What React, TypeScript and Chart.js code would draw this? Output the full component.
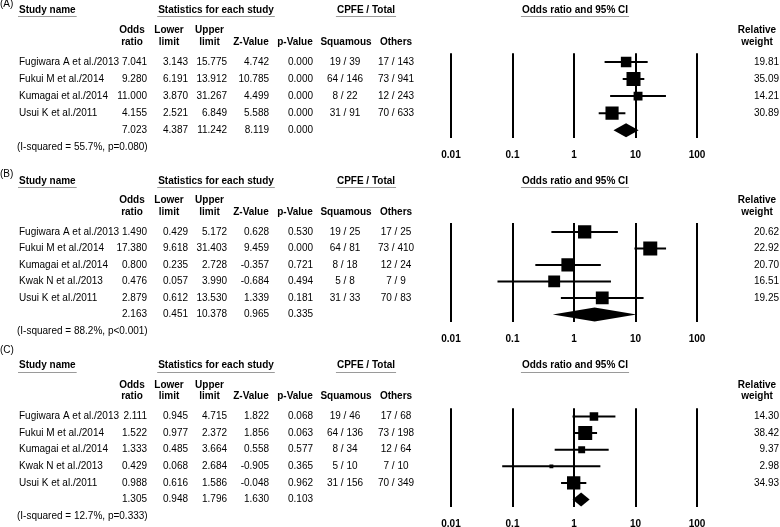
import React, { useEffect, useRef } from "react";
import { Chart, registerables } from "chart.js";

Chart.register(...registerables);

// ---------- axis ----------
const tickValues = [0.01, 0.1, 1, 10, 100];
const tickLabels = ["0.01", "0.1", "1", "10", "100"];

// ---------- panel A ----------
const studiesA = ["Fugiwara A et al./2013", "Fukui M et al./2014", "Kumagai et al./2014", "Usui K et al./2011"];
const oddsA = [7.041, 9.28, 11.0, 4.155];
const lowerA = [3.143, 6.191, 3.87, 2.521];
const upperA = [15.775, 13.912, 31.267, 6.849];
const zA = [4.742, 10.785, 4.499, 5.588];
const pA = [0.0, 0.0, 0.0, 0.0];
const squamousEventsA = [19, 64, 8, 31];
const squamousTotalA = [39, 146, 22, 91];
const othersEventsA = [17, 73, 12, 70];
const othersTotalA = [143, 941, 243, 633];
const weightsA = [19.81, 35.09, 14.21, 30.89];
const pooledA = [7.023, 4.387, 11.242, 8.119, 0.0]; // OR, lower, upper, Z, p
const hetA = "(I-squared = 55.7%, p=0.080)";

// ---------- panel B ----------
const studiesB = ["Fugiwara A et al./2013", "Fukui M et al./2014", "Kumagai et al./2014", "Kwak N et al./2013", "Usui K et al./2011"];
const oddsB = [1.49, 17.38, 0.8, 0.476, 2.879];
const lowerB = [0.429, 9.618, 0.235, 0.057, 0.612];
const upperB = [5.172, 31.403, 2.728, 3.99, 13.53];
const zB = [0.628, 9.459, -0.357, -0.684, 1.339];
const pB = [0.53, 0.0, 0.721, 0.494, 0.181];
const squamousEventsB = [19, 64, 8, 5, 31];
const squamousTotalB = [25, 81, 18, 8, 33];
const othersEventsB = [17, 73, 12, 7, 70];
const othersTotalB = [25, 410, 24, 9, 83];
const weightsB = [20.62, 22.92, 20.7, 16.51, 19.25];
const pooledB = [2.163, 0.451, 10.378, 0.965, 0.335];
const hetB = "(I-squared = 88.2%, p<0.001)";

// ---------- panel C ----------
const studiesC = ["Fugiwara A et al./2013", "Fukui M et al./2014", "Kumagai et al./2014", "Kwak N et al./2013", "Usui K et al./2011"];
const oddsC = [2.111, 1.522, 1.333, 0.429, 0.988];
const lowerC = [0.945, 0.977, 0.485, 0.068, 0.616];
const upperC = [4.715, 2.372, 3.664, 2.684, 1.586];
const zC = [1.822, 1.856, 0.558, -0.905, -0.048];
const pC = [0.068, 0.063, 0.577, 0.365, 0.962];
const squamousEventsC = [19, 64, 8, 5, 31];
const squamousTotalC = [46, 136, 34, 10, 156];
const othersEventsC = [17, 73, 12, 7, 70];
const othersTotalC = [68, 198, 64, 10, 349];
const weightsC = [14.3, 38.42, 9.37, 2.98, 34.93];
const pooledC = [1.305, 0.948, 1.796, 1.63, 0.103];
const hetC = "(I-squared = 12.7%, p=0.333)";

// ---------- header texts ----------
const groupHeaders = ["Study name", "Statistics for each study", "CPFE / Total", "Odds ratio and 95% CI"];

// ---------- layout (pixels) ----------
const FONT = '"Liberation Sans", Arial, Helvetica, sans-serif';
const PLOT_LEFT = 451;
const PLOT_RIGHT = 697;
const AXIS_H = 20;
const MAX_SIDE = 14;
const DIAMOND_HALF = 7;

type Layout = {
  top: number; height: number; labelY: number; groupY: number; head1Y: number; head2Y: number;
  areaTop: number; areaBottom: number; row0: number; rowStep: number;
};

const layoutA: Layout = { top: 0, height: 168, labelY: 4, groupY: 10.3, head1Y: 30.5, head2Y: 42, areaTop: 53.3, areaBottom: 138, row0: 61.9, rowStep: 17.09 };
const layoutB: Layout = { top: 168, height: 176, labelY: 6, groupY: 13, head1Y: 32.7, head2Y: 44.3, areaTop: 55, areaBottom: 154.3, row0: 63.9, rowStep: 16.51 };
const layoutC: Layout = { top: 344, height: 183, labelY: 6, groupY: 21.7, head1Y: 41.7, head2Y: 52.7, areaTop: 64.3, areaBottom: 163, row0: 72.5, rowStep: 16.61 };

type Panel = {
  tag: string; studies: string[]; odds: number[]; lower: number[]; upper: number[]; z: number[]; p: number[];
  sqE: number[]; sqT: number[]; otE: number[]; otT: number[]; weights: number[]; pooled: number[]; het: string; layout: Layout;
};

const panels: Panel[] = [
  { tag: "(A)", studies: studiesA, odds: oddsA, lower: lowerA, upper: upperA, z: zA, p: pA, sqE: squamousEventsA, sqT: squamousTotalA, otE: othersEventsA, otT: othersTotalA, weights: weightsA, pooled: pooledA, het: hetA, layout: layoutA },
  { tag: "(B)", studies: studiesB, odds: oddsB, lower: lowerB, upper: upperB, z: zB, p: pB, sqE: squamousEventsB, sqT: squamousTotalB, otE: othersEventsB, otT: othersTotalB, weights: weightsB, pooled: pooledB, het: hetB, layout: layoutB },
  { tag: "(C)", studies: studiesC, odds: oddsC, lower: lowerC, upper: upperC, z: zC, p: pC, sqE: squamousEventsC, sqT: squamousTotalC, otE: othersEventsC, otT: othersTotalC, weights: weightsC, pooled: pooledC, het: hetC, layout: layoutC },
];

function text(ctx: CanvasRenderingContext2D, s: string, x: number, y: number, align: CanvasTextAlign, bold = false) {
  ctx.font = `${bold ? "bold " : ""}10px ${FONT}`;
  ctx.textAlign = align;
  ctx.textBaseline = "middle";
  ctx.fillStyle = "#000";
  ctx.fillText(s, x, y);
}

function underlined(ctx: CanvasRenderingContext2D, s: string, x: number, y: number, align: CanvasTextAlign) {
  text(ctx, s, x, y, align, true);
  const w = ctx.measureText(s).width;
  const x0 = align === "left" ? x : x - w / 2;
  ctx.save();
  ctx.strokeStyle = "#9a9a9a";
  ctx.lineWidth = 1;
  ctx.beginPath();
  ctx.moveTo(x0 - 1, Math.round(y + 6) + 0.5);
  ctx.lineTo(x0 + w + 1, Math.round(y + 6) + 0.5);
  ctx.stroke();
  ctx.restore();
}

function makeConfig(panel: Panel): any {
  const L = panel.layout;
  const n = panel.studies.length;
  const maxW = Math.max(...panel.weights);
  const yMin = (L.areaTop - L.row0) / L.rowStep;
  const yMax = (L.areaBottom - L.row0) / L.rowStep;

  const squares = panel.odds.map((v, i) => ({ x: v, y: i }));
  const radii = panel.weights.map((w) => (MAX_SIDE * Math.sqrt(w / maxW)) / Math.SQRT2);
  const ciData: any[] = [];
  panel.odds.forEach((_, i) => {
    ciData.push({ x: panel.lower[i], y: i });
    ciData.push({ x: panel.upper[i], y: i });
    ciData.push({ x: panel.upper[i], y: null });
  });

  const tablePlugin = {
    id: "forestTable" + panel.tag,
    afterDatasetsDraw(chart: any) {
      const ctx: CanvasRenderingContext2D = chart.ctx;
      const xs = chart.scales.x;
      const ys = chart.scales.y;
      const [or, lo, hi] = panel.pooled;
      const yc = ys.getPixelForValue(n);
      ctx.save();
      ctx.fillStyle = "#000";
      ctx.beginPath();
      ctx.moveTo(xs.getPixelForValue(lo), yc);
      ctx.lineTo(xs.getPixelForValue(or), yc - DIAMOND_HALF);
      ctx.lineTo(xs.getPixelForValue(hi), yc);
      ctx.lineTo(xs.getPixelForValue(or), yc + DIAMOND_HALF);
      ctx.closePath();
      ctx.fill();
      ctx.restore();
    },
    afterDraw(chart: any) {
      const ctx: CanvasRenderingContext2D = chart.ctx;
      const ys = chart.scales.y;
      ctx.save();
      text(ctx, panel.tag, 0, L.labelY, "left");
      underlined(ctx, groupHeaders[0], 19, L.groupY, "left");
      underlined(ctx, groupHeaders[1], 216, L.groupY, "center");
      underlined(ctx, groupHeaders[2], 366, L.groupY, "center");
      underlined(ctx, groupHeaders[3], 575, L.groupY, "center");

      text(ctx, "Odds", 132, L.head1Y, "center", true);
      text(ctx, "ratio", 132, L.head2Y, "center", true);
      text(ctx, "Lower", 169, L.head1Y, "center", true);
      text(ctx, "limit", 169, L.head2Y, "center", true);
      text(ctx, "Upper", 209.5, L.head1Y, "center", true);
      text(ctx, "limit", 209.5, L.head2Y, "center", true);
      text(ctx, "Z-Value", 251, L.head2Y, "center", true);
      text(ctx, "p-Value", 295, L.head2Y, "center", true);
      text(ctx, "Squamous", 346, L.head2Y, "center", true);
      text(ctx, "Others", 396, L.head2Y, "center", true);
      text(ctx, "Relative", 757, L.head1Y, "center", true);
      text(ctx, "weight", 757, L.head2Y, "center", true);

      for (let i = 0; i < n; i++) {
        const y = ys.getPixelForValue(i);
        text(ctx, panel.studies[i], 19, y, "left");
        text(ctx, panel.odds[i].toFixed(3), 147, y, "right");
        text(ctx, panel.lower[i].toFixed(3), 188, y, "right");
        text(ctx, panel.upper[i].toFixed(3), 227, y, "right");
        text(ctx, panel.z[i].toFixed(3), 269, y, "right");
        text(ctx, panel.p[i].toFixed(3), 313, y, "right");
        text(ctx, `${panel.sqE[i]} / ${panel.sqT[i]}`, 345, y, "center");
        text(ctx, `${panel.otE[i]} / ${panel.otT[i]}`, 396, y, "center");
        text(ctx, panel.weights[i].toFixed(2), 779, y, "right");
      }
      const yp = ys.getPixelForValue(n);
      text(ctx, panel.pooled[0].toFixed(3), 147, yp, "right");
      text(ctx, panel.pooled[1].toFixed(3), 188, yp, "right");
      text(ctx, panel.pooled[2].toFixed(3), 227, yp, "right");
      text(ctx, panel.pooled[3].toFixed(3), 269, yp, "right");
      text(ctx, panel.pooled[4].toFixed(3), 313, yp, "right");
      text(ctx, panel.het, 17, ys.getPixelForValue(n + 1), "left");
      ctx.restore();
    },
  };

  return {
    type: "scatter",
    data: {
      datasets: [
        {
          type: "scatter",
          data: squares,
          pointStyle: "rect",
          pointRadius: radii,
          pointBackgroundColor: "#000",
          pointBorderWidth: 0,
          borderWidth: 0,
          order: 0,
        },
        {
          type: "line",
          data: ciData,
          borderColor: "#000",
          borderWidth: 2,
          pointRadius: 0,
          spanGaps: false,
          fill: false,
          tension: 0,
          order: 1,
        },
      ],
    },
    options: {
      animation: false,
      responsive: false,
      devicePixelRatio: 1,
      events: [],
      layout: { padding: { left: PLOT_LEFT, right: 780 - PLOT_RIGHT, top: L.areaTop, bottom: L.height - L.areaBottom - AXIS_H } },
      plugins: { legend: { display: false }, tooltip: { enabled: false }, title: { display: false } },
      scales: {
        x: {
          type: "logarithmic",
          position: "bottom",
          min: tickValues[0],
          max: tickValues[tickValues.length - 1],
          afterBuildTicks: (scale: any) => {
            scale.ticks = tickValues.map((v) => ({ value: v }));
          },
          afterFit: (scale: any) => {
            scale.height = AXIS_H;
          },
          ticks: {
            autoSkip: false,
            maxRotation: 0,
            padding: 11,
            color: "#000",
            font: { family: FONT, size: 10, weight: "bold" },
            callback: (v: number) => {
              let best = 0;
              tickValues.forEach((t, i) => {
                if (Math.abs(Math.log10(t) - Math.log10(v)) < Math.abs(Math.log10(tickValues[best]) - Math.log10(v))) best = i;
              });
              return tickLabels[best];
            },
          },
          grid: { color: "#000", lineWidth: 2, drawTicks: false, drawOnChartArea: true },
          border: { display: false },
        },
        y: {
          type: "linear",
          min: yMin,
          max: yMax,
          reverse: true,
          display: false,
          grid: { display: false },
        },
      },
    },
    plugins: [tablePlugin],
  };
}

function ForestPanel({ panel }: { panel: Panel }) {
  const ref = useRef<HTMLCanvasElement | null>(null);
  useEffect(() => {
    if (!ref.current) return;
    const chart = new Chart(ref.current, makeConfig(panel));
    return () => chart.destroy();
  }, [panel]);
  const L = panel.layout;
  return (
    <div style={{ position: "absolute", left: 0, top: L.top, width: 780, height: L.height }}>
      <canvas ref={ref} width={780} height={L.height} style={{ display: "block", width: 780, height: L.height }} />
    </div>
  );
}

export default function App() {
  return (
    <div style={{ position: "absolute", left: 0, top: 0, width: 780, height: 527, background: "#fff", overflow: "hidden" }}>
      {panels.map((p) => (
        <ForestPanel key={p.tag} panel={p} />
      ))}
    </div>
  );
}
